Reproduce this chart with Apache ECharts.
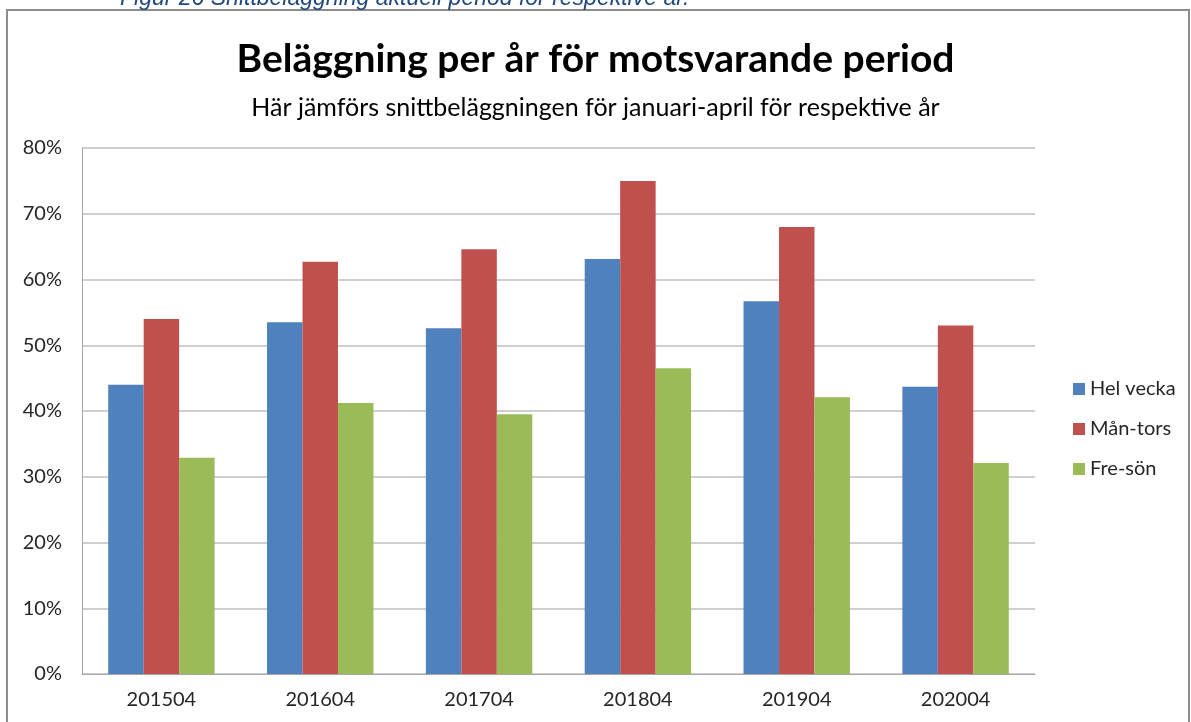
<!DOCTYPE html>
<html>
<head>
<meta charset="utf-8">
<script src="https://cdn.jsdelivr.net/npm/echarts@6/dist/echarts.min.js"></script>
<style>
  html, body { margin: 0; padding: 0; background: #fff; }
  #chart { width: 1191px; height: 722px; }
</style>
</head>
<body>
<div id="chart"></div>
<script>
const periods = ['201504', '201604', '201704', '201804', '201904', '202004']
const helVecka = [44.0, 53.5, 52.6, 63.1, 56.7, 43.7]
const manTors = [54.0, 62.7, 64.6, 75.0, 68.0, 53.0]
const freSon = [32.9, 41.2, 39.5, 46.5, 42.1, 32.1]

const colors = {
  hel: '#4F81BD',
  man: '#C0504D',
  fre: '#9BBB59',
  grid: '#BFBFBF',
  text: '#262626',
}

const font = 'Lato, "Open Sans", sans-serif'

function barSeries(name, data, color) {
  return {
    name,
    type: 'bar',
    data,
    barGap: '0%',
    barCategoryGap: '33%',
    itemStyle: { color },
  }
}

const chart = echarts.init(document.getElementById('chart'), null, { renderer: 'canvas' })

chart.setOption({
  animation: false,
  backgroundColor: '#ffffff',
  title: [
    {
      text: 'Beläggning per år för motsvarande period',
      left: 'center',
      top: 35,
      textStyle: { fontFamily: font, fontWeight: 'bold', fontSize: 39, color: '#000' },
    },
    {
      text: 'Här jämförs snittbeläggningen för januari-april för respektive år',
      left: 'center',
      top: 90,
      textStyle: { fontFamily: font, fontWeight: 'normal', fontSize: 25, color: '#000' },
    },
  ],
  graphic: [
    {
      type: 'rect',
      shape: { x: 7, y: 10, width: 1182, height: 720 },
      style: { fill: 'none', stroke: '#8C8C8C', lineWidth: 2 },
      silent: true,
    },
    {
      type: 'text',
      left: 120,
      top: -13,
      style: {
        text: 'Figur 26 Snittbeläggning aktuell period för respektive år.',
        fontFamily: 'Liberation Sans, Arial, sans-serif',
        fontStyle: 'italic',
        fontSize: 23,
        fill: '#1F497D',
      },
    },
  ],
  legend: {
    orient: 'vertical',
    left: 1068,
    top: 374,
    itemWidth: 12,
    itemHeight: 12,
    itemGap: 20,
    icon: 'rect',
    textStyle: { fontFamily: font, fontSize: 20, color: colors.text },
    data: ['Hel vecka', 'Mån-tors', 'Fre-sön'],
  },
  grid: { left: 82, right: 156, top: 148, bottom: 48, containLabel: false },
  xAxis: {
    type: 'category',
    data: periods,
    axisLine: { lineStyle: { color: '#A6A6A6' } },
    axisTick: { show: false },
    axisLabel: { fontFamily: font, fontSize: 20, color: colors.text, margin: 16 },
  },
  yAxis: {
    type: 'value',
    min: 0,
    max: 80,
    interval: 10,
    axisLine: { show: true, lineStyle: { color: '#A6A6A6' } },
    axisTick: { show: false },
    axisLabel: {
      fontFamily: font,
      fontSize: 20,
      color: colors.text,
      margin: 20,
      formatter: (v) => v + '%',
    },
    splitLine: { lineStyle: { color: colors.grid, width: 1.5 } },
  },
  series: [
    barSeries('Hel vecka', helVecka, colors.hel),
    barSeries('Mån-tors', manTors, colors.man),
    barSeries('Fre-sön', freSon, colors.fre),
  ],
})
</script>
</body>
</html>
